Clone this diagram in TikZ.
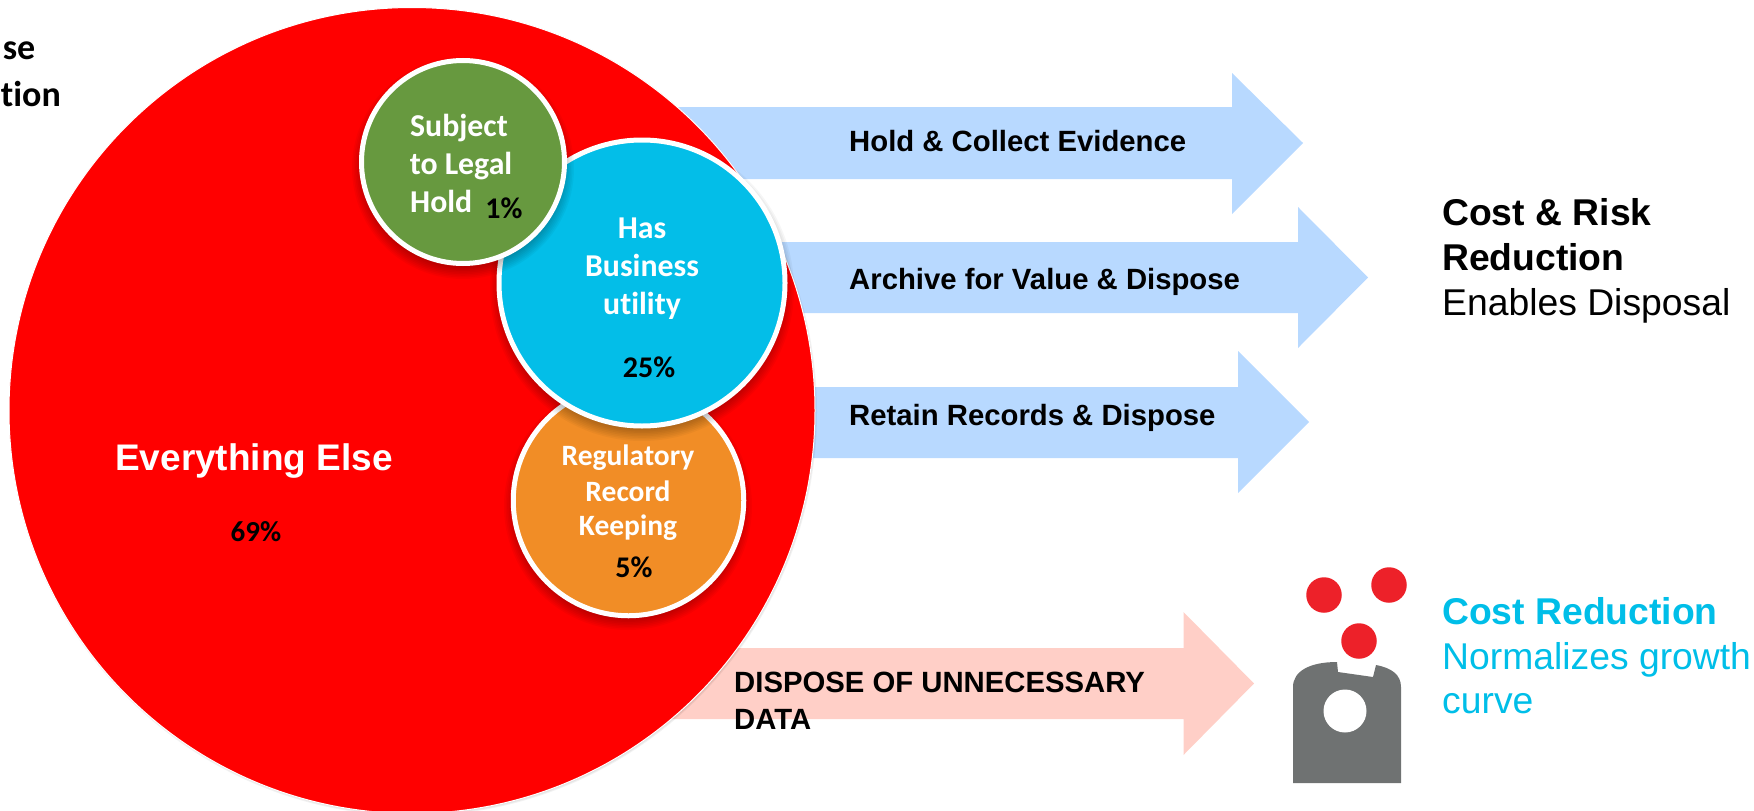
\documentclass[tikz,border=0pt]{standalone}
\usepackage{fontspec}
\setmainfont{Liberation Sans}
\newfontfamily\calfont[Ligatures=CommonOff]{Carlito}
\definecolor{bigred}{HTML}{FF0000}
\definecolor{holdgreen}{HTML}{67993F}
\definecolor{bizblue}{HTML}{03BEE8}
\definecolor{regorange}{HTML}{F18D26}
\definecolor{arrblue}{HTML}{B8D9FF}
\definecolor{arrpink}{HTML}{FFCFC7}
\definecolor{icongray}{HTML}{6F7272}
\definecolor{ballred}{HTML}{ED2129}
\definecolor{cyantext}{HTML}{00BEE8}
\newcommand{\softshadow}[3]{% x y r
  \foreach \k in {0,1,...,7}{
    \fill[black,opacity=0.035] (#1,#2+6) circle [radius={(#3+7-\k*1.6)*1pt}];
  }
}
\newcommand{\bigarrow}[9]{% color, xstart, ytop, ybot, xhead, headtop, headbot, tip, ymid
  \fill[#1] (#2,#3) -- (#5,#3) -- (#5,#6) -- (#8,#9) -- (#5,#7) -- (#5,#4) -- (#2,#4) -- cycle;
}
\tikzset{
  x=1pt,y=-1pt,
  disc/.style={circle,draw=white,line width=5pt,inner sep=0pt,outer sep=0pt},
  ballnode/.style={circle,fill=ballred,inner sep=0pt,minimum size=35.5pt},
  calw/.style={text=white,inner sep=0pt,font=\calfont\bfseries\fontsize{#1}{#1}\selectfont},
  calk/.style={text=black,inner sep=0pt,font=\calfont\bfseries\fontsize{#1}{#1}\selectfont},
  arrowtext/.style={anchor=west,inner sep=0pt,text=black,font=\bfseries\fontsize{29.3}{29.3}\selectfont},
  headtext/.style={anchor=west,inner sep=0pt,font=\bfseries\fontsize{#1}{#1}\selectfont},
  subtext/.style={anchor=west,inner sep=0pt,font=\fontsize{#1}{#1}\selectfont},
}
\begin{document}
\begin{tikzpicture}
\useasboundingbox (0,0) rectangle (1754,811);
\clip (0,0) rectangle (1754,811);
% arrows behind the big circle
\bigarrow{arrblue}{650}{107}{179}{1232}{73}{214}{1303}{143}
\bigarrow{arrblue}{700}{242}{313}{1298}{207}{348}{1368}{277.5}
\bigarrow{arrblue}{700}{387}{458}{1238}{351}{493}{1309}{422}
\bigarrow{arrpink}{600}{648}{719}{1183.5}{612}{755}{1254}{683.5}
% big circle
\foreach \k in {0,1,2}{\fill[black,opacity=0.05] (413,412) circle [radius={(404-\k)*1pt}];}
\node[circle,fill=bigred,draw=white,line width=1pt,inner sep=0pt,minimum size=806pt] (everything) at (412,410.5) {};
% orange
\softshadow{628}{500}{117}
\node[disc,fill=regorange,minimum size=230.5pt] (regulatory) at (628.5,500.5) {};
% blue
\softshadow{642}{283}{145}
\node[disc,fill=bizblue,minimum size=286pt] (business) at (642,283) {};
% green
\softshadow{463}{162}{104}
\node[disc,fill=holdgreen,minimum size=203pt] (legal) at (463,162) {};
% circle labels
\node[calw=31.8] (t1) at (459,128) {Subject};
\node[calw=31.8] (t2) at (461,166) {to Legal};
\node[calw=31.8,anchor=west] (t3) at (410,201) {Hold};
\node[calk=30] (p1) at (504,208) {1\%};
\node[calw=31.8] (t4) at (642,228) {Has};
\node[calw=31.8] (t5) at (642,265) {Business};
\node[calw=31.8] (t6) at (642,306) {utility};
\node[calk=30] (p2) at (649,367) {25\%};
\node[calw=29.5] (t7) at (628,458) {Regulatory};
\node[calw=29.5] (t8) at (628,491) {Record};
\node[calw=29.5] (t9) at (628,528) {Keeping};
\node[calk=30] (p3) at (634,567) {5\%};
\node[inner sep=0pt,text=white,font=\bfseries\fontsize{37}{37}\selectfont] (else) at (254,461) {Everything Else};
\node[calk=29] (p4) at (256,532) {69\%};
% clipped labels top-left
\node[calk=36,anchor=east] (se) at (35.5,51) {se};
\node[calk=36,anchor=east] (tion) at (61,94) {tion};
% arrow texts
\node[arrowtext] (a1) at (849,141) {Hold \& Collect Evidence};
\node[arrowtext] (a2) at (849,282) {Archive for Value \& Dispose};
\node[arrowtext] (a3) at (849,418) {Retain Records \& Dispose};
\node[arrowtext] (a4) at (734,682) {DISPOSE OF UNNECESSARY};
\node[arrowtext] (a5) at (734,719) {DATA};
% right texts
\node[headtext=37.3] (r1) at (1442,212.5) {Cost \& Risk};
\node[headtext=37.3] (r2) at (1442,257) {Reduction};
\node[subtext=37.3] (r3) at (1442,306) {Enables Disposal};
\node[headtext=37.3,text=cyantext] (c1) at (1442,611) {Cost Reduction};
\node[subtext=37.3,text=cyantext] (c2) at (1442,660) {Normalizes growth};
\node[subtext=37.3,text=cyantext] (c3) at (1442,704) {curve};
% icon
\fill[icongray] (1293,783) -- (1293,687) .. controls (1293,671) and (1310,662) .. (1337,662)
  -- (1338,672) -- (1373,677) -- (1376,665) .. controls (1392,668) and (1401,675) .. (1401,687) -- (1401,783) -- cycle;
\fill[white] (1345,711) circle [radius=21.5pt];
\node[ballnode] (b1) at (1324,595) {};
\node[ballnode] (b2) at (1389,585) {};
\node[ballnode] (b3) at (1359,641) {};
\end{tikzpicture}
\end{document}
